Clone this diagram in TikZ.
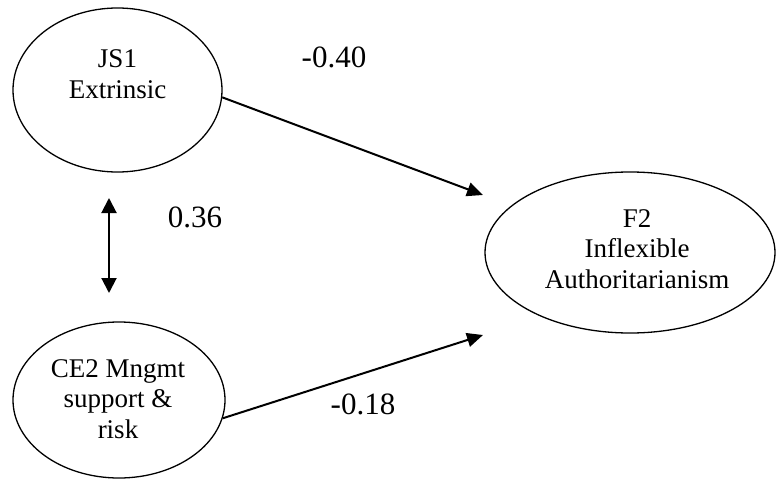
\documentclass[tikz,border=0pt]{standalone}
\usepackage{fontspec}
\setmainfont{Liberation Serif}
\usetikzlibrary{shapes.geometric, arrows.meta}

\begin{document}
\begin{tikzpicture}[x=1pt,y=-1pt,
  latent/.style={draw, ellipse, line width=1.3pt, inner sep=0pt},
  ltext/.style={align=center, font=\fontsize{27}{30.5}\selectfont, inner sep=0pt},
  coef/.style={font=\fontsize{31}{36}\selectfont, inner sep=0pt},
  effect/.style={line width=2pt, -{Triangle[length=16pt,width=14pt]}},
  corr/.style={line width=2pt, {Triangle[length=15pt,width=15pt]}-{Triangle[length=15pt,width=15pt]}},
]
\useasboundingbox (0,0) rectangle (778,481);

\node[latent, minimum width=209pt, minimum height=164pt] (js) at (117.5,90) {};
\node[ltext] (jst) at (117.5,74) {JS1\\Extrinsic};

\node[latent, minimum width=212pt, minimum height=156pt] (ce) at (119,400) {};
\node[ltext] (cet) at (118,399) {CE2 Mngmt\\support \&\\risk};

\node[latent, minimum width=290pt, minimum height=161pt] (f2) at (630,252.5) {};
\node[ltext] (f2t) at (637,249) {F2\\Inflexible\\Authoritarianism};

\coordinate (t1) at (483,195);
\coordinate (t2) at (483,335);
\coordinate (d1) at (109,198);
\coordinate (d2) at (109,293);

\draw[effect] (js.-4) -- (t1);
\draw[effect] (ce.-10) -- (t2);
\draw[corr] (d1) -- (d2);

\node[coef] (c1) at (334,57) {-0.40};
\node[coef] (c2) at (195,217) {0.36};
\node[coef] (c3) at (363,404) {-0.18};
\end{tikzpicture}
\end{document}
